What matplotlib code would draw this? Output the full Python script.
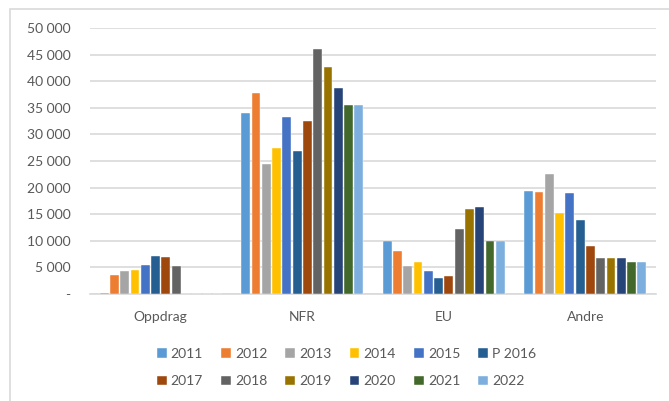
import matplotlib.pyplot as plt
import matplotlib.ticker as mticker
from matplotlib.patches import Rectangle
import numpy as np

plt.rcParams['font.family'] = ['Lato', 'DejaVu Sans']

# Kategorier og årlige verdier
kategorier = ["Oppdrag", "NFR", "EU", "Andre"]
aar = ["2011", "2012", "2013", "2014", "2015", "P 2016",
       "2017", "2018", "2019", "2020", "2021", "2022"]

v2011 = [250, 34000, 10000, 19300]
v2012 = [3600, 37800, 8100, 19100]
v2013 = [4400, 24500, 5300, 22600]
v2014 = [4600, 27500, 6000, 15300]
v2015 = [5500, 33300, 4300, 18900]
v2016 = [7150, 26800, 2950, 13900]
v2017 = [6950, 32500, 3450, 8950]
v2018 = [5300, 46100, 12200, 6800]
v2019 = [0, 42600, 16000, 6800]
v2020 = [0, 38700, 16300, 6800]
v2021 = [0, 35600, 10000, 6100]
v2022 = [0, 35600, 10000, 6100]

serier = [v2011, v2012, v2013, v2014, v2015, v2016,
          v2017, v2018, v2019, v2020, v2021, v2022]

farger = ["#5B9BD5", "#ED7D31", "#A5A5A5", "#FFC000", "#4472C4", "#255E91",
          "#9E480E", "#636363", "#997300", "#264478", "#43682B", "#7CAFDD"]

tekstfarge = "#595959"
gridfarge = "#D9D9D9"

fig = plt.figure(figsize=(6.69, 4.01), dpi=100)
ax = fig.add_axes([90 / 669, 1 - 294 / 401, 566 / 669, 266 / 401])

x = np.arange(len(kategorier))
slot = 0.872 / len(serier)
for i, (verdier, farge, navn) in enumerate(zip(serier, farger, aar)):
    pos = x - 0.436 + slot * (i + 0.5)
    ax.bar(pos, verdier, width=slot * 0.86, color=farge, label=navn,
           edgecolor="white", linewidth=0.3, zorder=3)

ax.set_xlim(-0.5, len(kategorier) - 0.5)
ax.set_ylim(0, 50000)
ax.yaxis.set_major_locator(mticker.MultipleLocator(5000))


def tusen(v, pos):
    if v == 0:
        return "-"
    return f"{int(v):,}".replace(",", " ")


ax.yaxis.set_major_formatter(mticker.FuncFormatter(tusen))
ax.set_xticks(x)
ax.set_xticklabels(kategorier)

ax.grid(axis="y", color=gridfarge, linewidth=1.2, zorder=0)
for s in ["top", "right", "left"]:
    ax.spines[s].set_visible(False)
ax.spines["bottom"].set_color(gridfarge)
ax.spines["bottom"].set_linewidth(1.2)
ax.tick_params(axis="both", length=0, labelsize=10, colors=tekstfarge)
ax.tick_params(axis="y", pad=14)
ax.tick_params(axis="x", pad=12)

# Ramme rundt diagramområdet
fig.patches.append(Rectangle((10 / 669, -0.1), 1.2, 1.1 - 8.5 / 401,
                             transform=fig.transFigure, fill=False,
                             edgecolor=gridfarge, linewidth=1.2))

# Legenden fylles kolonnevis, så rekkefølgen flettes for å lese radvis
handles, labels = ax.get_legend_handles_labels()
rekkefolge = [j for i in range(6) for j in (i, i + 6)]
fig.legend([handles[k] for k in rekkefolge], [labels[k] for k in rekkefolge],
           loc="center", bbox_to_anchor=(0.518, 0.083), ncol=6,
           frameon=False, fontsize=10, labelcolor=tekstfarge,
           handlelength=0.7, handleheight=0.7, handletextpad=0.3,
           columnspacing=1.3, labelspacing=1.1)

fig.savefig("out.png", dpi=100)
